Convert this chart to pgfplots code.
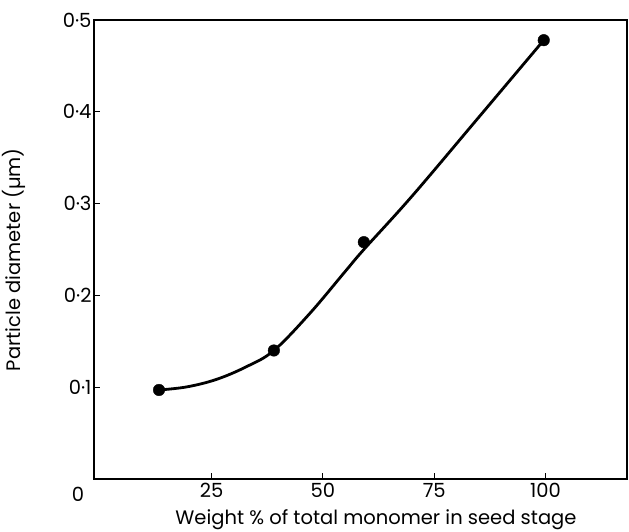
\documentclass[border=0pt]{standalone}
\usepackage{fontspec}
\setmainfont{Poppins}
\usepackage{pgfplots}
\pgfplotsset{compat=1.18}
\begin{document}
\begin{tikzpicture}
\begin{axis}[
  name=ax,
  scale only axis,
  width=533pt, height=459pt,
  xmin=-1.4, xmax=118.3,
  ymin=0, ymax=0.5,
  axis line style={line width=1.4pt},
  tick style={line width=1.2pt, black},
  tick pos=left,
  tick align=inside,
  major tick length=6pt,
  xtick={25,50,75,100},
  xticklabels={25,50,75,100},
  ytick={0.1,0.2,0.3,0.4,0.5},
  yticklabels={0·1,0·2,0·3,0·4,0·5},
  ticklabel style={font=\fontsize{19.5}{22}\selectfont},
  xticklabel style={yshift=-1pt},
  yticklabel style={xshift=1pt},
  clip=false,
]
\addplot[black, line width=2.8pt, smooth, tension=0.6] coordinates {
  (13.2,0.097) (19.4,0.1003) (26.1,0.1085) (32.9,0.1225) (39.0,0.140)
  (47,0.180) (55,0.226) (59.2,0.250) (70,0.308) (85,0.394) (99.6,0.478)
};
\addplot[only marks, mark=*, mark size=5.8pt, black] coordinates {
  (13.2,0.097) (39.0,0.140) (59.2,0.258) (99.6,0.478)
};
\coordinate (yl) at (rel axis cs:0,0.478);
\coordinate (xl) at (rel axis cs:0.529,0);
\coordinate (org) at (rel axis cs:0,0);
\coordinate (tr) at (rel axis cs:1,1);
\end{axis}
\node[font=\fontsize{19.5}{22}\selectfont] at ([xshift=-16pt,yshift=-15pt]org) {0};
\node[rotate=90, font=\fontsize{19.5}{22}\selectfont] at ([xshift=-80pt]yl) {Particle diameter (µm)};
\node[font=\fontsize{19.5}{22}\selectfont] at ([yshift=-41pt]xl) {Weight \% of total monomer in seed stage};
\pgfresetboundingbox
\useasboundingbox ([xshift=-94pt,yshift=-52pt]org) rectangle ([xshift=2pt,yshift=20pt]tr);
\end{tikzpicture}
\end{document}
